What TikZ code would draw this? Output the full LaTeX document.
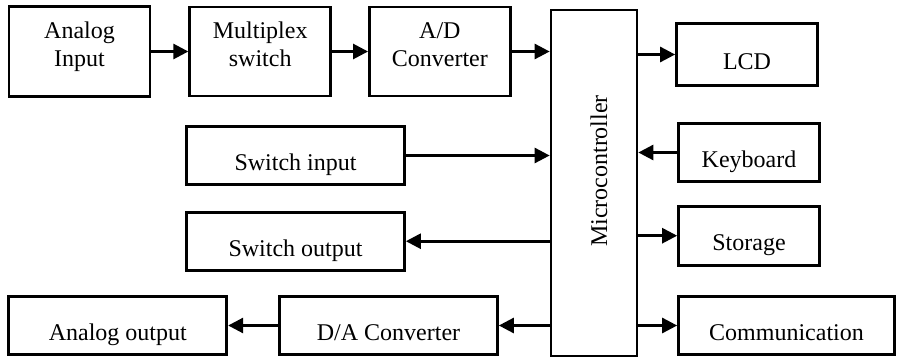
\documentclass[tikz,border=0pt]{standalone}
\usepackage{fontspec}
\setmainfont{Liberation Serif}
\usetikzlibrary{positioning,arrows.meta}

\tikzset{
  blk/.style={draw, line width=2.7pt, align=center, font=\fontsize{24}{28}\selectfont, text height=30pt, text depth=0pt},
  twoline/.style={text height=43pt, text depth=13pt},
  arr/.style={line width=2.7pt, -{Triangle[length=15pt,width=15pt]}}
}

\begin{document}
\begin{tikzpicture}[x=1pt,y=-1pt]
\useasboundingbox (0,0) rectangle (897,359);

\node[blk,twoline,minimum width=141pt,minimum height=90pt](ain) at (79.5,51.5){Analog\\Input};
\node[blk,twoline,minimum width=141pt,minimum height=89pt, right=37pt of ain](mux){Multiplex\\switch};
\node[blk,twoline,minimum width=141pt,minimum height=89pt, right=36pt of mux](adc){A/D\\Converter};

\node[blk,minimum width=86pt,minimum height=346pt](mcu) at (594,183){};
\node[font=\fontsize{24}{28}\selectfont, rotate=90](mcutxt) at (599,171){Microcontroller};

\node[blk,minimum width=141pt,minimum height=62pt](lcd) at (747,54.5){LCD};
\node[blk,minimum width=141pt,minimum height=58pt](kbd) at (749,152.5){Keyboard};
\node[blk,minimum width=141pt,minimum height=59pt, below=22pt of kbd](sto){Storage};
\node[blk,minimum width=216pt,minimum height=58pt](com) at (786.5,325.5){Communication};

\node[blk,minimum width=218pt,minimum height=58pt](swin) at (295.5,155.5){Switch input};
\node[blk,minimum width=218pt,minimum height=58pt, below=25pt of swin](swout){Switch output};
\node[blk,minimum width=218pt,minimum height=58pt](dac) at (388.5,325.5){D/A Converter};
\node[blk,minimum width=218pt,minimum height=58pt, left=50pt of dac](aout){Analog output};

\draw[arr] (ain.east) -- (ain.east -| mux.west);
\draw[arr] (mux.east) -- (mux.east -| adc.west);
\draw[arr] (adc.east) -- (adc.east -| mcu.west);
\draw[arr] (swin.east) -- (swin.east -| mcu.west);
\draw[arr] (mcu.west |- swout.east) -- (swout.east);
\draw[arr] (mcu.west |- dac.east) -- (dac.east);
\draw[arr] (dac.west) -- (aout.east);

\draw[arr] (mcu.east |- lcd.west) -- (lcd.west);
\draw[arr] (kbd.west) -- (kbd.west -| mcu.east);
\draw[arr] (mcu.east |- sto.west) -- (sto.west);
\draw[arr] (mcu.east |- com.west) -- (com.west);

\end{tikzpicture}
\end{document}
